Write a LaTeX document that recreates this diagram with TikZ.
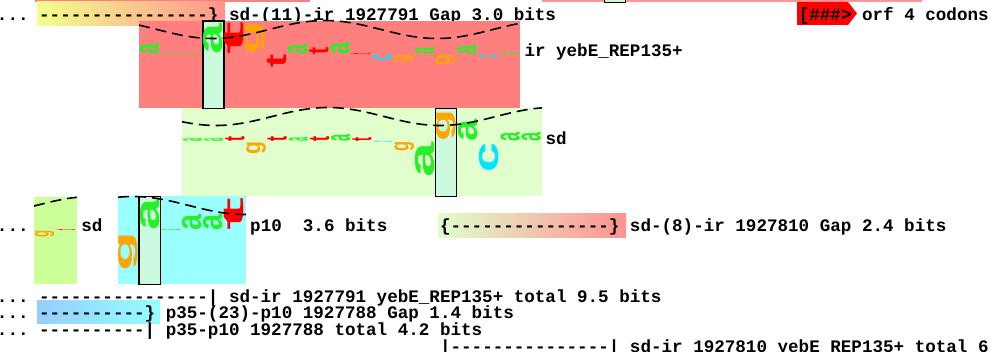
\documentclass[tikz,border=0pt]{standalone}
\usepackage{fontspec}
\usepackage{graphicx}
\setmonofont{Liberation Mono}
\newfontfamily\logof{Liberation Sans}
\definecolor{salmon}{RGB}{255,127,127}
\definecolor{pinkstrip}{RGB}{255,150,150}
\definecolor{sdgreen}{RGB}{224,255,204}
\definecolor{sdgreenb}{RGB}{204,255,153}
\definecolor{pcyan}{RGB}{153,255,255}
\definecolor{mint}{RGB}{204,250,222}
\definecolor{lA}{RGB}{40,240,40}
\definecolor{lC}{RGB}{0,230,255}
\definecolor{lG}{RGB}{255,165,0}
\definecolor{lT}{RGB}{255,0,0}
\definecolor{goneL}{RGB}{242,255,140}
\definecolor{goneM}{RGB}{255,205,140}
\definecolor{goneR}{RGB}{255,148,140}
\definecolor{gtwoL}{RGB}{224,255,204}
\definecolor{gtwoM}{RGB}{255,228,172}
\definecolor{gtwoR}{RGB}{255,145,145}
\definecolor{gthrL}{RGB}{150,205,255}
\definecolor{gthrR}{RGB}{150,255,255}
\newcommand{\wla}{\textcolor{lA}{\logof\bfseries a}}
\newcommand{\wlc}{\textcolor{lC}{\logof\bfseries c}}
\newcommand{\wlg}{\textcolor{lG}{\logof\bfseries g}}
\newcommand{\wlt}{\textcolor{lT}{\logof\bfseries t}}
% #1 left x of base, #2 baseline y, #3 letter, #4 signed height
\newcommand{\wletter}[4]{%
  \ifdim #4pt>0pt
    \node[inner sep=0pt,outer sep=0pt,anchor=south west] at ({#1+0.8},#2) {\resizebox*{19.5pt}{#4pt}{\rotatebox{90}{\csname wl#3\endcsname}}};
  \else
    \node[inner sep=0pt,outer sep=0pt,anchor=north west] at ({#1+0.8},#2) {\resizebox*{19.5pt}{-#4pt}{\rotatebox{90}{\csname wl#3\endcsname}}};
  \fi}
\begin{document}
\begin{tikzpicture}[x=1pt,y=-1pt,
  txt/.style={font=\ttfamily\bfseries\fontsize{17.58pt}{20pt}\selectfont\frenchspacing,inner sep=0pt,outer sep=0pt,anchor=base west},
  zerobox/.style={fill=mint,draw=black,line width=1.2pt},
  helix/.style={black,line width=1.6pt,dash pattern=on 11pt off 6pt}]
\clip (0,0) rectangle (991,352);
\fill[white] (0,0) rectangle (991,352);
% top strips
\fill[salmon] (35,0) rectangle (310,2.5);
\fill[pinkstrip] (542,0) rectangle (922,2.5);
\draw[zerobox,line width=1pt] (604,-3) rectangle (625,2.5);
% row 1
\shade[left color=goneL,middle color=goneM,right color=goneR] (37,2) rectangle (225,26);
\fill[lT] (797,2) -- (848,2) -- (857,13.5) -- (848,25) -- (797,25) -- cycle;
\node[txt] (rowone) at (-3,20.5) {... ----------------\} sd-(11)-ir 1927791 Gap 3.0 bits};
\node[txt] (orf) at (798.8,20.5) {[\#\#\#> orf 4 codons};
% site boxes
\fill[salmon] (139,21) rectangle (520,108.5);
\fill[sdgreen] (182,108.5) rectangle (542,196.5);
\fill[sdgreenb] (34,197) rectangle (77,284.5);
\fill[pcyan] (118,196.5) rectangle (246,284.5);
\draw[zerobox] (203,21) rectangle (224,108.5);
\draw[zerobox] (435.5,108.5) rectangle (456.5,196.5);
\draw[zerobox] (139,196.5) rectangle (160.5,284.5);
% walker letters
\foreach \L/\H [count=\i from 0] in {a/11,a/1,a/1,a/31,t/33,g/33,t/-13,a/10,t/7,a/12,t/1,c/-6,g/-8,a/7,g/-11,a/9,c/-3,a/2}
  {\wletter{139+21.17*\i}{55}{\L}{\H}}
\foreach \L/\H [count=\i from 0] in {a/3,a/3,t/5,g/-13,t/5,a/4,t/5,a/7,t/4,c/-1,g/-10,a/-35,g/32,a/22,c/-30,a/9,a/9}
  {\wletter{182+21.17*\i}{142}{\L}{\H}}
\foreach \L/\H [count=\i from 0] in {g/-7,t/1}
  {\wletter{34+21.17*\i}{231}{\L}{\H}}
\foreach \L/\H [count=\i from 0] in {g/-40,a/32,a/1,a/16,a/16,t/33}
  {\wletter{118+21.17*\i}{231}{\L}{\H}}
% helix curves (period 224 px: 360/224 = 1.60714 deg per px)
\draw[helix] plot[domain=139:520,samples=90] (\x,{29.5+9*cos(1.60714*(\x-437))});
\draw[helix] plot[domain=182:542,samples=90] (\x,{116.5+9*cos(1.60714*(\x-440))});
\draw[helix] plot[domain=34:77,samples=20] (\x,{205.5+9*cos(1.60714*(\x+20))});
\draw[helix] plot[domain=118:246,samples=40] (\x,{205.5+9*cos(1.60714*(\x-245))});
% labels
\node[txt] (labir) at (524.5,57) {ir yebE\_REP135+};
\node[txt] (labsd) at (545.6,145) {sd};
% row 2
\shade[left color=gtwoL,middle color=gtwoM,right color=gtwoR] (438,213.5) rectangle (626,237.5);
\node[txt] (rtwoa) at (-3,232) {...};
\node[txt] (rtwob) at (81.4,232) {sd};
\node[txt] (rtwoc) at (250.2,232) {p10\ \ 3.6 bits};
\node[txt] (rtwod) at (440.1,232) {\{---------------\} sd-(8)-ir 1927810 Gap 2.4 bits};
% bottom rows
\shade[left color=gthrL,right color=gthrR] (37,300.5) rectangle (160,324);
\node[txt] (rthree) at (-3,302.5) {... ----------------| sd-ir 1927791 yebE\_REP135+ total 9.5 bits};
\node[txt] (rfour) at (-3,319) {... ----------\} p35-(23)-p10 1927788 Gap 1.4 bits};
\node[txt] (rfive) at (-3,336) {... ----------| p35-p10 1927788 total 4.2 bits};
\node[txt] (rsix) at (440.1,353) {|---------------| sd-ir 1927810 yebE\_REP135+ total 6};
\end{tikzpicture}
\end{document}
